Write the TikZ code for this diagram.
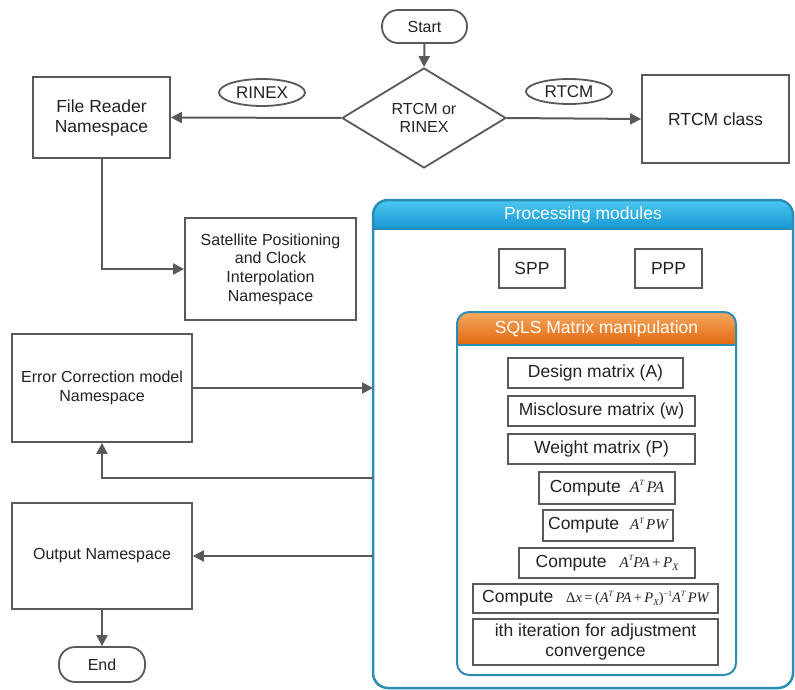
\documentclass[tikz,border=0pt]{standalone}
\usepackage{fontspec}
\setmainfont{Liberation Sans}
\newfontfamily\tms{Liberation Serif}
\usetikzlibrary{arrows.meta,shapes.geometric}
\definecolor{lncol}{HTML}{595959}
\definecolor{txtcol}{HTML}{222222}
\definecolor{tealb}{HTML}{2B8DB3}
\definecolor{bluetop}{HTML}{4CC8F0}
\definecolor{bluebot}{HTML}{1896D3}
\definecolor{orgtop}{HTML}{F6A860}
\definecolor{orgbot}{HTML}{E2680E}
\newcommand{\fx}[1]{{\tms\itshape #1}}
\newcommand{\sps}[1]{\raisebox{0.45em}{\fontsize{8}{8}\selectfont #1}}
\begin{document}
\begin{tikzpicture}[x=1pt,y=-1pt,
  box/.style={draw=lncol, line width=1.8pt, fill=white, align=center, inner sep=0pt, text=txtcol},
  fbig/.style={font=\fontsize{17.5}{20}\selectfont},
  fmid/.style={font=\fontsize{16}{18.7}\selectfont},
  pill/.style={box, rounded corners=16pt},
  lbl/.style={draw=lncol, line width=1.8pt, ellipse, inner sep=0pt, fill=white, text=txtcol, font=\fontsize{17}{20}\selectfont},
  arr/.style={draw=lncol, line width=2pt, -{Triangle[length=11pt,width=11pt]}},
  mbox/.style={draw=lncol, line width=1.8pt, fill=white, inner sep=0pt, align=center, text=txtcol, font=\fontsize{17.5}{20}\selectfont},
  hdr/.style={text=white, font=\fontsize{17.5}{20}\selectfont}
]
\useasboundingbox (0,0) rectangle (795,690);

% top flow
\node[pill, fmid, minimum width=85pt, minimum height=33pt] (start) at (424.5,26.5) {Start};
\node[draw=lncol, line width=1.8pt, diamond, aspect=1.64, minimum width=164pt, minimum height=100pt, inner sep=0pt, align=center, text=txtcol, fmid] (dec) at (424,118) {RTCM or\\RINEX};
\node[box, fbig, minimum width=137pt, minimum height=81pt] (fr) at (101.5,117.5) {File Reader\\Namespace};
\node[box, fbig, minimum width=147pt, minimum height=88pt] (rtcm) at (715.5,119) {RTCM class};
\node[lbl, minimum width=86pt, minimum height=27pt] (rinexl) at (262,92.5) {RINEX};
\node[lbl, minimum width=86pt, minimum height=25pt] (rtcml) at (569,91.5) {RTCM};

\draw[arr] (start.south) -- (dec.north);
\draw[arr] (dec.west) -- (fr.east);
\draw[arr] (dec.east) -- (rtcm.west);

% left column
\node[box, fmid, minimum width=171pt, minimum height=102pt] (sat) at (270.5,269) {Satellite Positioning\\and Clock\\Interpolation\\Namespace};
\node[box, fmid, minimum width=180pt, minimum height=108pt] (err) at (102,388) {Error Correction model\\Namespace};
\node[box, fmid, minimum width=180pt, minimum height=106pt] (out) at (102,556) {Output Namespace};
\node[pill, fmid, minimum width=86pt, minimum height=35pt] (endn) at (102,664.5) {End};

% processing modules container
\node[minimum width=420pt, minimum height=488pt, inner sep=0pt, outer sep=0pt] (proc) at (583,444) {};
\fill[white, rounded corners=15pt] (proc.north west) rectangle (proc.south east);
\begin{scope}
  \clip[rounded corners=15pt] (proc.north west) rectangle (proc.south east);
  \shade[top color=bluetop, bottom color=bluebot] (proc.north west) rectangle ([yshift=-29pt]proc.north east);
\end{scope}
\draw[tealb, line width=1.2pt] ([yshift=-29pt]proc.north west) -- ([yshift=-29pt]proc.north east);
\draw[tealb, line width=2.5pt, rounded corners=15pt] (proc.north west) rectangle (proc.south east);
\node[hdr] (proct) at (583,215) {Processing modules};

\node[mbox, minimum width=66pt, minimum height=39pt] (spp) at (532,268.5) {SPP};
\node[mbox, minimum width=67pt, minimum height=39pt] (ppp) at (668.5,268.5) {PPP};

% SQLS container
\node[minimum width=279pt, minimum height=363pt, inner sep=0pt, outer sep=0pt] (sqls) at (596.5,493.5) {};
\fill[white, rounded corners=12pt] (sqls.north west) rectangle (sqls.south east);
\begin{scope}
  \clip[rounded corners=12pt] (sqls.north west) rectangle (sqls.south east);
  \shade[top color=orgtop, bottom color=orgbot] (sqls.north west) rectangle ([yshift=-33pt]sqls.north east);
\end{scope}
\draw[tealb, line width=1.2pt] ([yshift=-33pt]sqls.north west) -- ([yshift=-33pt]sqls.north east);
\draw[tealb, line width=2pt, rounded corners=12pt] (sqls.north west) rectangle (sqls.south east);
\node[hdr] (sqlst) at (596.5,328.5) {SQLS Matrix manipulation};

\node[mbox, minimum width=175pt, minimum height=30pt] (m1) at (595.5,373) {Design matrix (A)};
\node[mbox, minimum width=187pt, minimum height=30pt] (m2) at (601.5,411) {Misclosure matrix (w)};
\node[mbox, minimum width=187pt, minimum height=30pt] (m3) at (601.5,449) {Weight matrix (P)};
\node[mbox, minimum width=136pt, minimum height=32pt] (m4) at (607,488) {Compute\hspace{9pt}{\fontsize{16}{16}\selectfont\fx{A}\sps{\fx{T}}\,\fx{PA}}};
\node[mbox, minimum width=130pt, minimum height=31pt] (m5) at (608,525.5) {Compute\hspace{11pt}{\fontsize{15}{15}\selectfont\fx{A}\sps{\fx{T}}\,\fx{PW}}};
\node[mbox, minimum width=176pt, minimum height=30pt] (m6) at (607,563) {Compute\hspace{13pt}{\fontsize{15}{15}\selectfont\fx{A}\sps{\fx{T}}\fx{PA}\,{\tms+}\,\fx{P}\raisebox{-0.2em}{\fontsize{10}{10}\selectfont\fx{X}}}};
\node[mbox, minimum width=245pt, minimum height=29pt] (m7) at (595.5,598.5) {Compute\hspace{13pt}{\fontsize{14.5}{14.5}\selectfont{\tms Δ}\fx{x}\,{\tms=}\,{\tms(}\fx{A}\sps{\fx{T}}\,\fx{PA}\,{\tms+}\,\fx{P}\raisebox{-0.2em}{\fontsize{9}{9}\selectfont\fx{X}}{\tms)}\sps{{\tms −1}}\fx{A}\sps{\fx{T}}\,\fx{PW}}};
\node[mbox, minimum width=245pt, minimum height=46pt] (m8) at (595.5,642) {ith iteration for adjustment\\convergence};

% connectors on left
\draw[arr] (fr.south) |- (sat.west);
\draw[arr] (err.east) -- (err.east -| proc.west);
\coordinate (fb) at (proc.west |- 0,478);
\draw[arr] (fb) -| (err.south);
\coordinate (oi) at (proc.west |- out.east);
\draw[arr] (oi) -- (out.east);
\draw[arr] (out.south) -- (endn.north);
\end{tikzpicture}
\end{document}
